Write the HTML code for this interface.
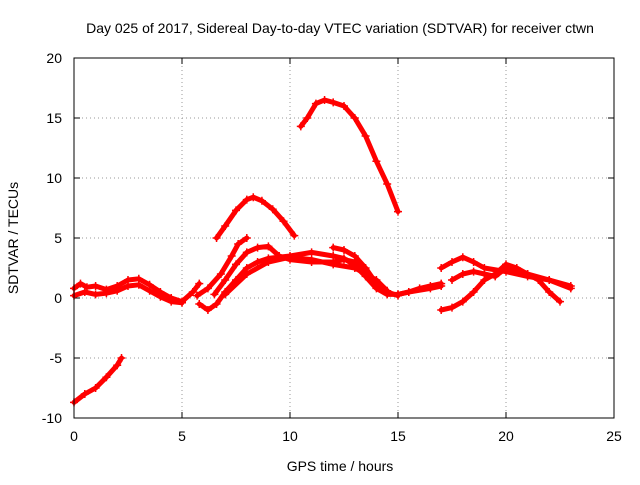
<!DOCTYPE html>
<html><head><meta charset="utf-8"><style>
body{margin:0;background:#fff}
svg text{font-family:"Liberation Sans",sans-serif;font-size:14px;fill:#000}
</style></head><body>
<svg id="chart" width="640" height="480">
<text x="340" y="33" text-anchor="middle">Day 025 of 2017, Sidereal Day-to-day VTEC variation (SDTVAR) for receiver ctwn</text>
<text x="340" y="471" text-anchor="middle">GPS time / hours</text>
<text transform="translate(18,238) rotate(-90)" text-anchor="middle">SDTVAR / TECUs</text>
<g id="grid"></g><g id="axes"></g><g id="marks"></g>
<rect x="74" y="58" width="540" height="360" fill="none" stroke="#000"/>
</svg>
<script>
const xTicks=[0,5,10,15,20,25];
const yTicks=[-10,-5,0,5,10,15,20];
const track1=[[0,-8.7],[0.5,-8],[1,-7.5],[1.5,-6.6],[2,-5.6],[2.2,-5]];
const track2=[[0,0.8],[0.3,1.2],[0.6,0.9],[1,1],[1.5,0.7],[2,1],[2.5,1.5],[3,1.6],[3.5,1.1],[4,0.5],[4.5,0],[5,-0.3],[5.5,0.5],[5.8,1.2]];
const track3=[[6.6,5],[7,6],[7.5,7.3],[8,8.2],[8.3,8.4],[8.7,8.1],[9.2,7.4],[9.7,6.4],[10.2,5.2]];
const track4=[[10.5,14.3],[10.8,15],[11.2,16.2],[11.6,16.5],[12,16.3],[12.5,16],[13,15],[13.5,13.5],[14,11.4],[14.5,9.5],[15,7.2]];
const track5=[[5.7,0.2],[6.2,0.8],[6.8,2],[7.3,3.5],[7.6,4.5],[8,5]];
const track6=[[5.8,-0.5],[6.2,-1],[6.6,-0.5],[7,0.5],[7.5,1.5],[8,2.5],[8.5,3],[9,3.3],[10,3.5],[11,3.8],[12,3.5],[12.5,3.3],[13,2.7],[13.5,1.8],[14,0.8],[14.5,0.3],[15,0.3],[15.5,0.5],[16.5,0.8],[17,1]];
const track7=[[6.5,0.3],[7,1.5],[7.5,2.8],[8,3.8],[8.5,4.2],[9,4.3],[9.5,3.5],[10,3.2],[11,3],[12,3],[12.5,3.2],[13,3],[13.5,2],[14,1],[14.5,0.4]];
const track8=[[12,4.2],[12.5,4],[13,3.5],[13.5,2.5],[14,1.2],[14.5,0.5],[15,0.2]];
const track9=[[7,0.3],[8,2],[9,3],[10,3.4],[11,3.2],[12,2.8],[13,2.5],[14,1.5],[14.5,0.6]];
const track10=[[17,2.5],[17.5,3],[18,3.4],[18.5,3],[19,2.5],[20,2.2],[21,1.8],[22,1.5],[23,1]];
const track11=[[17,-1],[17.5,-0.8],[18,-0.3],[18.5,0.5],[19,1.5],[19.5,2],[20,2.8],[20.5,2.5],[21,2],[21.5,1.5],[22,0.5],[22.5,-0.3]];
const track12=[[17.5,1.5],[18,2],[18.5,2.2],[19,2],[19.5,1.8],[20,2.5],[21,2],[22,1.5],[23,0.8]];
const track13=[[15,0.3],[15.5,0.5],[16,0.8],[16.5,1],[17,1.2]];
const track14=[[0,0.2],[0.5,0.5],[1,0.3],[1.5,0.4],[2,0.6],[2.5,1],[3,1.1],[3.5,0.6],[4,0.1],[4.5,-0.3],[5,-0.4]];
const tracks=[track1,track2,track3,track4,track5,track6,track7,track8,track9,track10,track11,track12,track13,track14];
const NS="http://www.w3.org/2000/svg";
const X=v=>74+v*540/25, Y=v=>418-(v+10)*12;
const g=document.getElementById('grid'),a=document.getElementById('axes'),m=document.getElementById('marks');
function mk(tag,attrs,parent){const e=document.createElementNS(NS,tag);for(const k in attrs)e.setAttribute(k,attrs[k]);parent.appendChild(e);return e;}
xTicks.forEach(t=>{
 const l=mk('line',{x1:X(t),x2:X(t),y1:58,y2:418,stroke:'#999','stroke-dasharray':'1,3'},g);
 
 
 mk('line',{x1:X(t),x2:X(t),y1:418,y2:412,stroke:'#000'},a);
 mk('line',{x1:X(t),x2:X(t),y1:58,y2:64,stroke:'#000'},a);
 const tx=mk('text',{x:X(t),y:441,'text-anchor':'middle'},a);tx.textContent=t;
 
 
});
yTicks.forEach(t=>{
 const l=mk('line',{x1:74,x2:614,y1:Y(t),y2:Y(t),stroke:'#999','stroke-dasharray':'1,3'},g);
 
 
 mk('line',{x1:74,x2:80,y1:Y(t),y2:Y(t),stroke:'#000'},a);
 mk('line',{x1:614,x2:608,y1:Y(t),y2:Y(t),stroke:'#000'},a);
 const tx=mk('text',{x:62,y:Y(t)+5,'text-anchor':'end'},a);tx.textContent=t;
 
 
});
tracks.forEach(tr=>{
 const p=mk('polyline',{points:tr.map(d=>X(d[0])+','+Y(d[1])).join(' '),fill:'none',stroke:'#f00','stroke-width':5,'stroke-linejoin':'round','stroke-linecap':'round'},m);
 
 
 tr.forEach(d=>{
  const c=mk('path',{d:`M${X(d[0])-4},${Y(d[1])}h8M${X(d[0])},${Y(d[1])-4}v8`,stroke:'#f00','stroke-width':1.5},m);
  
  
 });
});
</script>
</body></html>
